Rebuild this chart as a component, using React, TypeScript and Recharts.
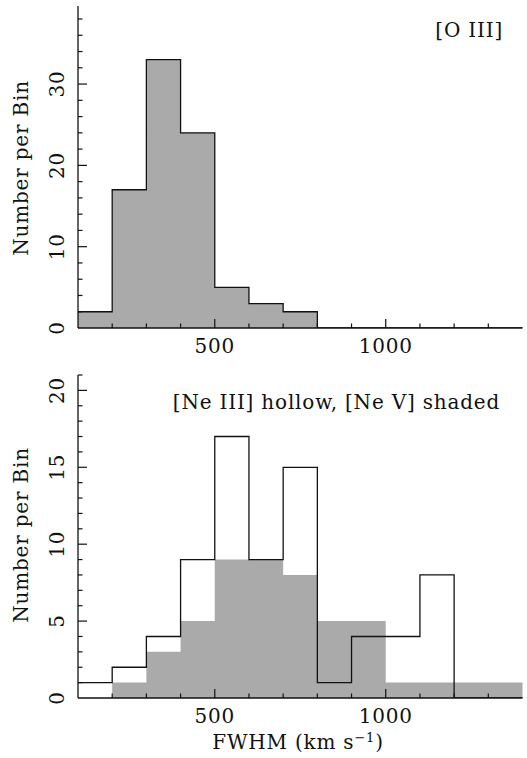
import { Area, ComposedChart, Line, XAxis, YAxis } from "recharts";

// histogram bin edges (km/s), last edge closes the final bin
const binEdges = [100, 200, 300, 400, 500, 600, 700, 800, 900, 1000, 1100, 1200, 1300, 1400];

const oiiiCounts = [2, 17, 33, 24, 5, 3, 2, 0, 0, 0, 0, 0, 0];
const neiiiCounts = [1, 2, 4, 9, 17, 9, 15, 1, 4, 4, 8, 0, 0];
const nevCounts = [0, 1, 3, 5, 9, 9, 8, 5, 5, 1, 1, 1, 1];

const xTicks = [200, 300, 400, 500, 600, 700, 800, 900, 1000, 1100, 1200, 1300];
const xMajor = [500, 1000];

const topYTicks = [0, 2, 4, 6, 8, 10, 12, 14, 16, 18, 20, 22, 24, 26, 28, 30, 32, 34, 36, 38];
const topYMajor = [0, 10, 20, 30];
const botYTicks = [0, 1, 2, 3, 4, 5, 6, 7, 8, 9, 10, 11, 12, 13, 14, 15, 16, 17, 18, 19, 20, 21];
const botYMajor = [0, 5, 10, 15, 20];

const FONT = "'DejaVu Serif', serif";
const INK = "#111";
const GREY = "#aaaaaa";

const toSteps = (counts: number[]) =>
  binEdges.map((x, i) => ({ x, v: counts[Math.min(i, counts.length - 1)] }));

const topData = toSteps(oiiiCounts);
const botData = binEdges.map((x, i) => {
  const j = Math.min(i, neiiiCounts.length - 1);
  return { x, ne3: neiiiCounts[j], ne5: nevCounts[j] };
});

const textStyle = { fontFamily: FONT, fontSize: 20, fill: INK, letterSpacing: 0.8 };

// dir 1 = tick goes up (bottom axis), -1 = goes down (top axis)
const xTick = (dir: number, labels: boolean) => (props: any) => {
  const { x, y, payload } = props;
  const major = xMajor.includes(payload.value);
  const len = major ? 9 : 4.5;
  return (
    <g>
      <line x1={x} x2={x} y1={y} y2={y - dir * len} stroke={INK} strokeWidth={1.2} />
      {labels && major && (
        <text x={x} y={y + 25} textAnchor="middle" style={textStyle}>
          {payload.value}
        </text>
      )}
    </g>
  );
};

// dir 1 = tick goes right (left axis), -1 = goes left (right axis)
const yTick = (dir: number, majors: number[], labels: boolean) => (props: any) => {
  const { x, y, payload } = props;
  const major = majors.includes(payload.value);
  const len = major ? 9 : 4.5;
  const lx = x - 14;
  return (
    <g>
      {payload.value !== 0 && (
        <line x1={x} x2={x + dir * len} y1={y} y2={y} stroke={INK} strokeWidth={1.2} />
      )}
      {labels && major && (
        <text
          x={lx}
          y={y}
          transform={`rotate(-90, ${lx}, ${y})`}
          textAnchor="middle"
          style={textStyle}
        >
          {payload.value}
        </text>
      )}
    </g>
  );
};

const yLabel = (cy: number) => (
  <text
    x={28}
    y={cy}
    transform={`rotate(-90, 28, ${cy})`}
    textAnchor="middle"
    style={textStyle}
  >
    Number per Bin
  </text>
);

export default function App() {
  const axisLine = { stroke: INK, strokeWidth: 1.3 };
  return (
    <div style={{ position: "absolute", left: 0, top: 0, width: 527, height: 758, background: "#fff" }}>
      <ComposedChart
        width={527}
        height={360}
        data={topData}
        margin={{ top: 6, right: 4.5, left: 0, bottom: 0 }}
      >
        <XAxis
          dataKey="x"
          type="number"
          domain={[100, 1400]}
          ticks={xTicks}
          interval={0}
          height={32}
          tickSize={0}
          tickMargin={0}
          tickLine={false}
          axisLine={axisLine}
          tick={xTick(1, true)}
        />
        <XAxis
          xAxisId="top"
          orientation="top"
          type="number"
          domain={[100, 1400]}
          ticks={xTicks}
          interval={0}
          height={0}
          tickSize={0}
          tickMargin={0}
          tickLine={false}
          axisLine={axisLine}
          tick={xTick(-1, false)}
        />
        <YAxis
          type="number"
          domain={[0, 39.6]}
          allowDataOverflow
          ticks={topYTicks}
          interval={0}
          width={78}
          tickSize={0}
          tickMargin={0}
          tickLine={false}
          axisLine={axisLine}
          tick={yTick(1, topYMajor, true)}
        />
        <YAxis
          yAxisId="right"
          orientation="right"
          type="number"
          domain={[0, 39.6]}
          allowDataOverflow
          ticks={topYTicks}
          interval={0}
          width={0}
          tickSize={0}
          tickMargin={0}
          tickLine={false}
          axisLine={axisLine}
          tick={yTick(-1, topYMajor, false)}
        />
        <Area
          dataKey="v"
          type="stepAfter"
          fill={GREY}
          fillOpacity={1}
          stroke={INK}
          strokeWidth={1.3}
          dot={false}
          activeDot={false}
          isAnimationActive={false}
        />
        {yLabel(168)}
        <text x={503} y={37} textAnchor="end" style={textStyle}>
          [O III]
        </text>
      </ComposedChart>

      <ComposedChart
        width={527}
        height={398}
        data={botData}
        margin={{ top: 15, right: 4.5, left: 0, bottom: 0 }}
      >
        <XAxis
          dataKey="x"
          type="number"
          domain={[100, 1400]}
          ticks={xTicks}
          interval={0}
          height={60}
          tickSize={0}
          tickMargin={0}
          tickLine={false}
          axisLine={axisLine}
          tick={xTick(1, true)}
        />
        <XAxis
          xAxisId="top"
          orientation="top"
          type="number"
          domain={[100, 1400]}
          ticks={xTicks}
          interval={0}
          height={0}
          tickSize={0}
          tickMargin={0}
          tickLine={false}
          axisLine={axisLine}
          tick={xTick(-1, false)}
        />
        <YAxis
          type="number"
          domain={[0, 21]}
          allowDataOverflow
          ticks={botYTicks}
          interval={0}
          width={78}
          tickSize={0}
          tickMargin={0}
          tickLine={false}
          axisLine={axisLine}
          tick={yTick(1, botYMajor, true)}
        />
        <YAxis
          yAxisId="right"
          orientation="right"
          type="number"
          domain={[0, 21]}
          allowDataOverflow
          ticks={botYTicks}
          interval={0}
          width={0}
          tickSize={0}
          tickMargin={0}
          tickLine={false}
          axisLine={axisLine}
          tick={yTick(-1, botYMajor, false)}
        />
        <Area
          dataKey="ne5"
          type="stepAfter"
          fill={GREY}
          fillOpacity={1}
          stroke="none"
          dot={false}
          activeDot={false}
          isAnimationActive={false}
        />
        <Line
          dataKey="ne3"
          type="stepAfter"
          stroke={INK}
          strokeWidth={1.3}
          dot={false}
          activeDot={false}
          isAnimationActive={false}
        />
        {yLabel(175)}
        <text x={500} y={49} textAnchor="end" style={textStyle}>
          [Ne III] hollow, [Ne V] shaded
        </text>
        <text x={298} y={389} textAnchor="middle" style={textStyle}>
          FWHM (km s
          <tspan dy={-7} fontSize={13}>
            −1
          </tspan>
          <tspan dy={7}>)</tspan>
        </text>
      </ComposedChart>
    </div>
  );
}
